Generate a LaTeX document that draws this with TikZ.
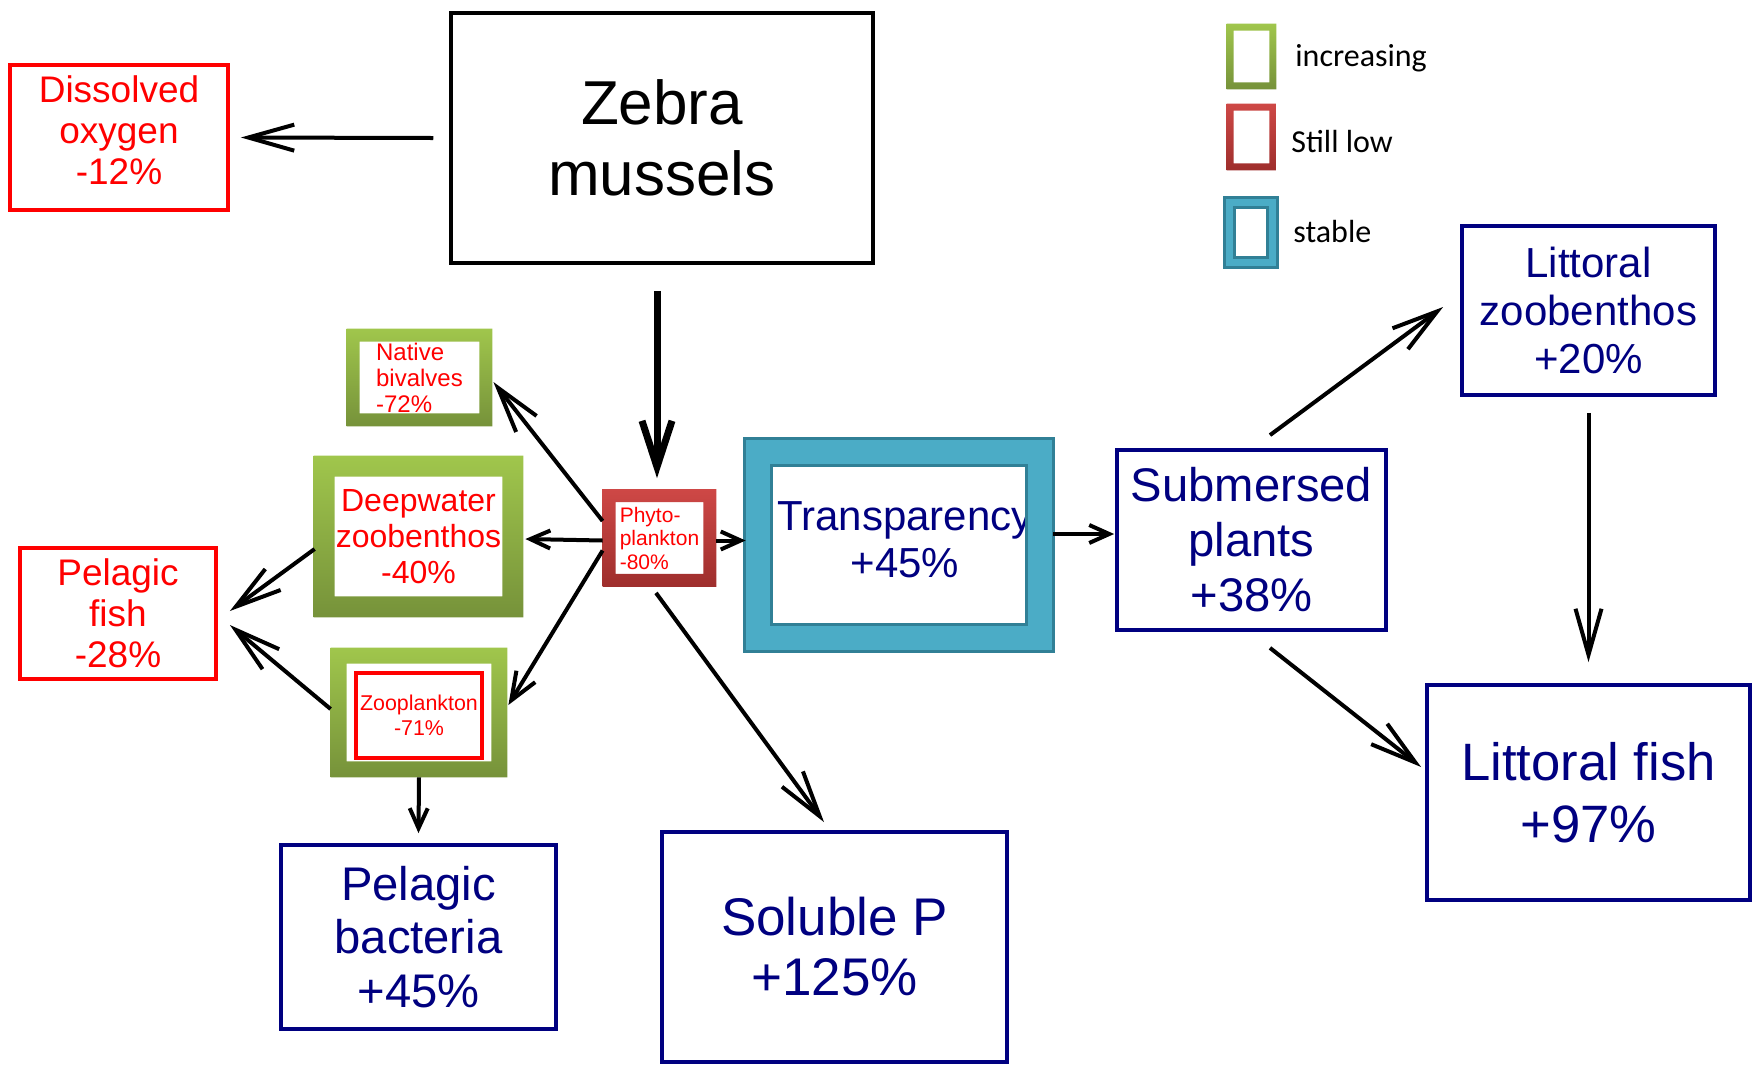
\documentclass[tikz,border=0pt]{standalone}
\usepackage{fontspec}
\setmainfont{Liberation Sans}
\newfontfamily\legendfont{Carlito}
\usetikzlibrary{arrows.meta}
\usetikzlibrary{calc}
\usepackage{xcolor}

\definecolor{navytext}{RGB}{0,0,128}
\definecolor{boxred}{RGB}{255,0,0}
\definecolor{greentop}{RGB}{160,198,76}
\definecolor{greenbot}{RGB}{118,146,58}
\definecolor{redtop}{RGB}{206,72,70}
\definecolor{redbot}{RGB}{158,46,44}
\definecolor{tealfill}{RGB}{75,172,198}
\definecolor{tealdark}{RGB}{49,128,150}

\tikzset{
  redbox/.style={draw=boxred, line width=1.9pt, text=boxred, align=center},
  bluebox/.style={draw=navytext, line width=1.9pt, text=navytext, align=center},
  redtext/.style={text=boxred, align=center},
  legtext/.style={anchor=base west, inner sep=0pt, font=\legendfont\fontsize{16}{19}\selectfont},
  link/.style={line width=2pt, -{Straight Barb[length=23pt,width=13pt]}},
  link mid/.style={line width=2pt, -{Straight Barb[length=14pt,width=11pt]}},
  link small/.style={line width=2pt, -{Straight Barb[length=10pt,width=9pt]}},
  link thick/.style={line width=3.5pt, -{Straight Barb[length=23pt,width=15pt]}}
}

\begin{document}
\begin{tikzpicture}[x=0.5pt,y=-0.5pt]
    \useasboundingbox (0,0) rectangle (1758,1067);

    \node[draw, line width=1.75pt, minimum width=211pt, minimum height=125pt, align=center,
      font=\fontsize{31}{35.5}\selectfont] (zebra) at (662,138) {Zebra\\mussels};
    \node[redbox, minimum width=109pt, minimum height=72.5pt, text depth=7.5pt,
      font=\fontsize{18.5}{20.7}\selectfont] (oxygen) at (119,137.5) {Dissolved\\oxygen\\-12\%};
    \node[redbox, minimum width=98pt, minimum height=65.5pt,
      font=\fontsize{18.5}{20.5}\selectfont] (pfish) at (118,613.5) {Pelagic\\fish\\-28\%};

    % framed ones, the frames go on top further down
    \node[redtext, align=left, minimum width=72.5pt, minimum height=48.5pt,
      font=\fontsize{12}{13}\selectfont] (bival) at (419.5,377.5) {Native\\bivalves\\-72\%};
    \node[redtext, minimum width=104.5pt, minimum height=80.5pt,
      font=\fontsize{16}{18}\selectfont] (deep) at (418.5,536.5) {Deepwater\\zoobenthos\\-40\%};
    \node[minimum width=88pt, minimum height=64.5pt] (zoo) at (419,712.5) {};
    \node[redbox, line width=2pt, minimum width=63pt, minimum height=42.5pt, inner sep=1pt,
      font=\fontsize{10.7}{12.5}\selectfont] (zooin) at (419,715.5) {Zooplankton\\-71\%};
    \node[redtext, align=left, minimum width=56.5pt, minimum height=48.5pt,
      font=\fontsize{10.5}{11.75}\selectfont] (phyto) at (659.5,538) {Phyto-\\plankton\\-80\%};
    \node[minimum width=154pt, minimum height=106pt] (trans) at (899,545) {};
    \node[text=navytext, align=center, font=\fontsize{21}{23.7}\selectfont] (transtxt) at (905,540) {Transparency\\+45\%};

    \node[bluebox, minimum width=134.5pt, minimum height=90pt,
      font=\fontsize{23.6}{27.5}\selectfont] (subm) at (1251.5,540) {Submersed\\plants\\+38\%};
    \node[bluebox, minimum width=126.5pt, minimum height=84.5pt,
      font=\fontsize{21}{24}\selectfont] (lzoo) at (1588.5,310.5) {Littoral\\zoobenthos\\+20\%};
    \node[bluebox, minimum width=161.5pt, minimum height=107.5pt,
      font=\fontsize{26.3}{31}\selectfont] (lfish) at (1588.5,792.5) {Littoral fish\\+97\%};
    \node[bluebox, minimum width=137.5pt, minimum height=92pt,
      font=\fontsize{23.6}{26.6}\selectfont] (bact) at (418.5,937) {Pelagic\\bacteria\\+45\%};
    \node[bluebox, minimum width=172.5pt, minimum height=115pt,
      font=\fontsize{26.5}{30}\selectfont] (solp) at (834.5,947) {Soluble P\\+125\%};

    % legend
    \node[minimum width=24.5pt, minimum height=32.5pt] (leginc) at (1251.5,56.5) {};
    \node[minimum width=24.5pt, minimum height=33pt] (leglow) at (1251.5,137) {};
    \node[minimum width=26pt, minimum height=34.5pt] (legstab) at (1251,232.5) {};
    \node[legtext] (txtinc) at (1295,66) {increasing};
    \node[legtext] (txtlow) at (1291,152) {Still low};
    \node[legtext] (txtstab) at (1293,242) {stable};

    \foreach \n/\w in {bival/6.5pt, deep/10.5pt, zoo/8pt, leginc/3.5pt}
      \shade[top color=greentop, bottom color=greenbot, even odd rule]
        (\n.north west) rectangle (\n.south east)
        ([shift={(\w,-\w)}]\n.north west) rectangle ([shift={(-\w,\w)}]\n.south east);
    \foreach \n/\w in {phyto/6.5pt, leglow/3.5pt}
      \shade[top color=redtop, bottom color=redbot, even odd rule]
        (\n.north west) rectangle (\n.south east)
        ([shift={(\w,-\w)}]\n.north west) rectangle ([shift={(-\w,\w)}]\n.south east);
    \foreach \n/\w in {trans/13.5pt, legstab/5pt}
      \filldraw[fill=tealfill, draw=tealdark, line width=1.2pt, even odd rule]
        (\n.north west) rectangle (\n.south east)
        ([shift={(\w,-\w)}]\n.north west) rectangle ([shift={(-\w,\w)}]\n.south east);

    % arrows
    \draw[link] ($(zebra.west)+(-16,0)$) -- ($(oxygen.east)+(11,0)$);
    \draw[link thick] ($(zebra.south)+(-5,26)$) -- ($(phyto.north)+(-2.5,-11)$);
    \draw[link] ($(phyto.west)+(0,-17)$) -- ($(bival.east)+(1,4.5)$);
    \draw[link small] ($(phyto.west)+(0,2.5)$) -- ($(deep.east)+(2,2.5)$);
    \draw[link mid] ($(phyto.west)+(0,12.5)$) -- ($(zoo.east)+(1,-7.5)$);
    \draw[link small] ($(phyto.east)+(0,2.5)$) -- ($(phyto.east -| trans.west)+(1,2.5)$);
    \draw[link] ($(phyto.south)+(-3.5,6)$) -- ($(solp.north)+(-10.5,-8)$);
    \draw[link] ($(deep.west)+(1,12.5)$) -- ($(pfish.east)+(12,-2.5)$);
    \draw[link] ($(zoo.west)+(0,-3.5)$) -- ($(pfish.east)+(12,11.5)$);
    \draw[link small] (zoo.south) -- ($(bact.north)+(0,-10)$);
    \draw[link small] ($(trans.east)+(0,-11)$) -- ($(subm.west)+(-1,-6)$);
    \draw[link] ($(subm.north)+(18.5,-13)$) -- ($(lzoo.west)+(-17,-3.5)$);
    \draw[link] ($(subm.south)+(18.5,16)$) -- ($(lfish.west)+(-4,-25.5)$);
    \draw[link] ($(lzoo.south)+(0,16)$) -- ($(lfish.north)+(0,-21)$);
\end{tikzpicture}
\end{document}
